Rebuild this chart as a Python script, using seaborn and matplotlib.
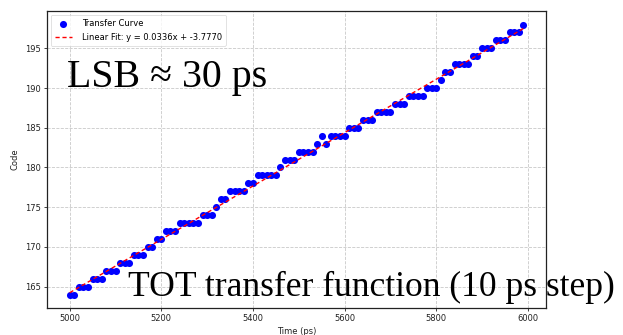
import numpy as np
import pandas as pd
import matplotlib
matplotlib.use("Agg")
import matplotlib.pyplot as plt
import seaborn as sns

# ---- data ----
time_ps = list(range(5000, 6000, 10))
code = ([164] * 2 + [165] * 3 + [166] * 3 + [167] * 3 + [168] * 3 + [169] * 3 +
        [170] * 2 + [171] * 2 + [172] * 3 + [173] * 5 + [174] * 3 + [175] * 1 +
        [176] * 2 + [177] * 4 + [178] * 2 + [179] * 5 + [180] * 1 + [181] * 3 +
        [182] * 4 + [183, 184, 183] + [184] * 4 + [185] * 3 + [186] * 3 +
        [187] * 4 + [188] * 3 + [189] * 4 + [190] * 3 + [191] * 1 + [192] * 2 +
        [193] * 4 + [194] * 2 + [195] * 3 + [196] * 3 + [197] * 3 + [198] * 1)
fit_slope = 0.0336
fit_intercept = -3.7770
x_ticks = [5000, 5200, 5400, 5600, 5800, 6000]
y_ticks = [165, 170, 175, 180, 185, 190, 195]
scatter_label = "Transfer Curve"
fit_label = f"Linear Fit: y = {fit_slope:.4f}x + {fit_intercept:.4f}"
annot_lsb = "LSB \u2248 30 ps"
annot_tot = "TOT transfer function (10 ps step)"

df = pd.DataFrame({"time": time_ps, "code": code})
df["fit"] = fit_slope * df["time"] + fit_intercept

W, H = 623, 335
fig = plt.figure(figsize=(W / 100, H / 100), dpi=100)
ax = fig.add_axes([47 / W, (H - 308) / H, (546 - 47) / W, (308 - 11) / H])

sns.scatterplot(data=df, x="time", y="code", ax=ax, color="blue", s=26,
                linewidth=0, label=scatter_label, zorder=3)
sns.lineplot(data=df, x="time", y="fit", ax=ax, color="red", linestyle="--",
             linewidth=1.0, label=fit_label, zorder=4, dashes=False)
ax.get_lines()[0].set_dashes([3, 2])

ax.set_xticks(x_ticks)
ax.set_yticks(y_ticks)
ax.set_xlim(4950.5, 6039.5)
ax.set_ylim(162.3, 199.7)
ax.tick_params(labelsize=6, length=2.2, width=0.6, pad=2, colors="#222222")
ax.grid(True, linestyle="--", color="#bbbbbb", linewidth=0.6, alpha=0.8)
ax.set_axisbelow(True)
for s in ax.spines.values():
    s.set_linewidth(0.9)
    s.set_color("#222222")
ax.set_xlabel("Time (ps)", fontsize=6, labelpad=3, color="#222222")
ax.set_ylabel("Code", fontsize=6, labelpad=4, color="#222222")

leg = ax.legend(loc="upper left", fontsize=6, frameon=True, borderpad=0.5,
                handlelength=2.0, labelspacing=0.6, handletextpad=1.2,
                borderaxespad=0.45)
leg.get_frame().set_linewidth(0.5)

serif = ["Liberation Serif", "DejaVu Serif"]
fig.text(67 / W, 1 - 87 / H, annot_lsb, family=serif, fontsize=28.7,
         va="baseline", ha="left", color="black")
fig.text(128 / W, 1 - 296 / H, annot_tot, family=serif, fontsize=25.6,
         va="baseline", ha="left", color="black")

fig.savefig("out.png", dpi=100)
